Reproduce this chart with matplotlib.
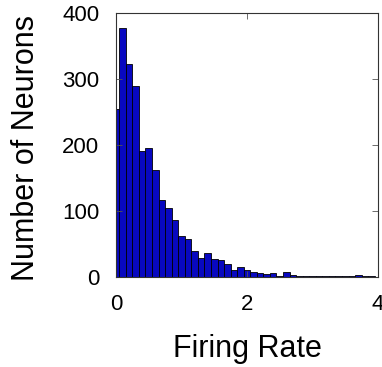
import matplotlib
matplotlib.use("Agg")
import matplotlib.pyplot as plt

# histogram of firing rates, bin centers every 0.1
bin_centers = [i / 10 for i in range(40)]
counts = [255, 378, 323, 290, 191, 196, 162, 117, 105, 87,
          62, 58, 40, 29, 37, 28, 26, 20, 10, 15,
          10, 8, 6, 4, 6, 2, 8, 3, 1, 2,
          1, 2, 1, 1, 2, 1, 2, 3, 1, 1]

plt.rcParams['font.family'] = ['Liberation Sans', 'DejaVu Sans']

fig = plt.figure(figsize=(3.82, 3.67), dpi=100)
ax = fig.add_axes([116 / 382, 90 / 367, 262 / 382, 264 / 367])

ax.bar(bin_centers, counts, width=0.1, align='center',
       color='#0808c0', edgecolor='black', linewidth=0.6)

ax.set_xlim(0, 4)
ax.set_ylim(0, 400)
ax.set_xticks([0, 2, 4])
ax.set_yticks([0, 100, 200, 300, 400])
ax.tick_params(direction='in', length=4, width=0.6, color='#555555',
               labelsize=16, top=True, right=True, pad=12)
for s in ax.spines.values():
    s.set_linewidth(0.8)
    s.set_color('#333333')

ax.set_xlabel('Firing Rate', fontsize=22)
ax.set_ylabel('Number of Neurons', fontsize=22)
ax.xaxis.set_label_coords(0.5, -0.215)
ax.yaxis.set_label_coords(-0.285, 0.49)

fig.savefig('out.png', dpi=100)
